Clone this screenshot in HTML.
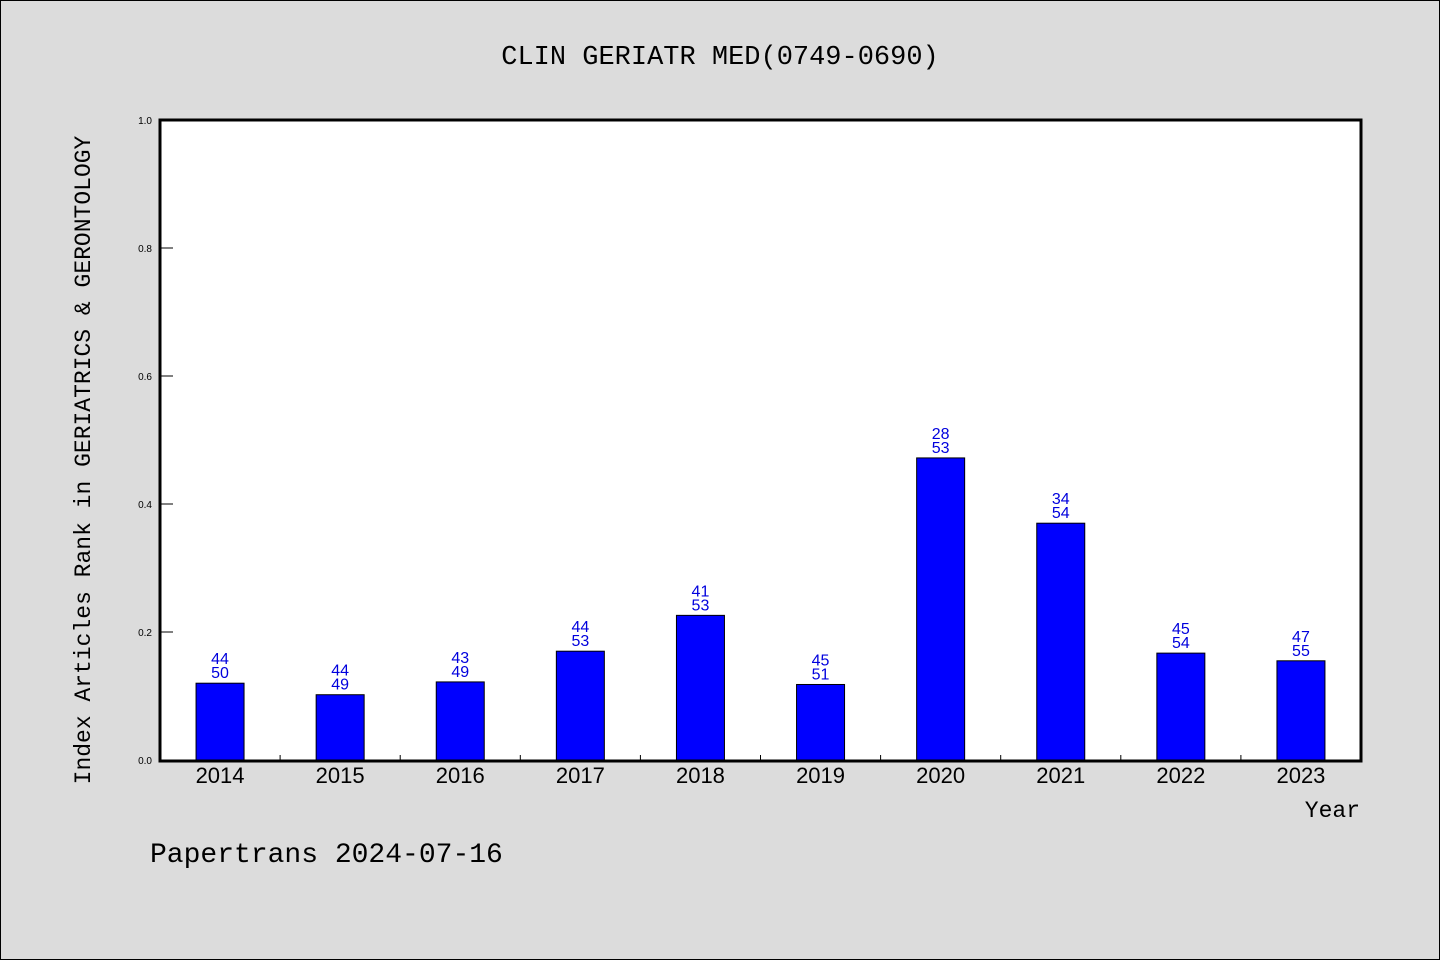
<!DOCTYPE html>
<html><head><meta charset="utf-8"><style>
html,body{margin:0;padding:0;background:#dcdcdc;}
svg{display:block;}
</style></head><body>
<svg width="1440" height="960" xmlns="http://www.w3.org/2000/svg" id="chart">
<rect x="0.5" y="0.5" width="1439" height="959" fill="#dcdcdc" stroke="#000"/>
<text x="720" y="64" text-anchor="middle" font-family="'WenQuanYi Zen Hei','Liberation Mono',monospace" font-size="27">CLIN GERIATR MED(0749-0690)</text>
<rect x="160" y="120" width="1201" height="641" fill="#fff"/>
<g id="bars"></g>
<g id="yaxis"></g>
<g id="xaxis"></g>
<rect x="160" y="120" width="1201" height="641" fill="none" stroke="#000" stroke-width="3"/>
<text x="90" y="460" transform="rotate(-90 90 460)" text-anchor="middle" font-family="'WenQuanYi Zen Hei','Liberation Mono',monospace" font-size="23">Index Articles Rank in GERIATRICS &amp; GERONTOLOGY</text>
<text x="1360" y="817" text-anchor="end" font-family="'WenQuanYi Zen Hei','Liberation Mono',monospace" font-size="23">Year</text>
<text x="150" y="862" font-family="'WenQuanYi Zen Hei','Liberation Mono',monospace" font-size="28">Papertrans 2024-07-16</text>
</svg>
<script>
const categories = ["2014","2015","2016","2017","2018","2019","2020","2021","2022","2023"];
const values = [0.12,0.102,0.122,0.17,0.226,0.118,0.472,0.37,0.167,0.155];
const ranks = [44,44,43,44,41,45,28,34,45,47];
const totals = [50,49,49,53,53,51,53,54,54,55];
const yTicks = ["0.0","0.2","0.4","0.6","0.8","1.0"];
const NS="http://www.w3.org/2000/svg";
const x0=160,x1=1361,yB=760,yT=120;
const band=(x1-x0)/categories.length;
const xC=i=>x0+band*(i+0.5);
const yS=v=>yB-(v)*(yB-yT);
function mk(t,a){const e=document.createElementNS(NS,t);for(const k in a)e.setAttribute(k,a[k]);return e;}
const gb=document.getElementById('bars'),gy=document.getElementById('yaxis'),gx=document.getElementById('xaxis');
categories.forEach((c,i)=>{
 const r=mk('rect',{x:xC(i)-24,y:yS(values[i]),width:48,height:yB-yS(values[i]),fill:'#0000ff',stroke:'#000','stroke-width':1});
 
 
 gb.appendChild(r);
 const t1=mk('text',{x:xC(i),y:yS(values[i])-19,'text-anchor':'middle','font-family':'Liberation Sans,sans-serif','font-size':16,fill:'#0000dd'});
 t1.textContent=ranks[i];
 
 
 gb.appendChild(t1);
 const t2=mk('text',{x:xC(i),y:yS(values[i])-5,'text-anchor':'middle','font-family':'Liberation Sans,sans-serif','font-size':16,fill:'#0000dd'});
 t2.textContent=totals[i];
 
 
 gb.appendChild(t2);
 const xl=mk('text',{x:xC(i),y:783,'text-anchor':'middle','font-family':'Liberation Sans,sans-serif','font-size':22});
 xl.textContent=c;
 
 
 gx.appendChild(xl);
 if(i>0){const tk=mk('line',{x1:x0+band*i,x2:x0+band*i,y1:yB,y2:yB-5,stroke:'#000'});
 
 
 gx.appendChild(tk);}
});
yTicks.forEach(s=>{
 const v=parseFloat(s),y=yS(v);
 const l=mk('line',{x1:x0,x2:x0+13,y1:y,y2:y,stroke:'#000'});
 
 
 gy.appendChild(l);
 const t=mk('text',{x:152,y:y+4,'text-anchor':'end','font-family':'Liberation Sans,sans-serif','font-size':10});
 t.textContent=s;
 
 
 gy.appendChild(t);
});
</script>
</body></html>
